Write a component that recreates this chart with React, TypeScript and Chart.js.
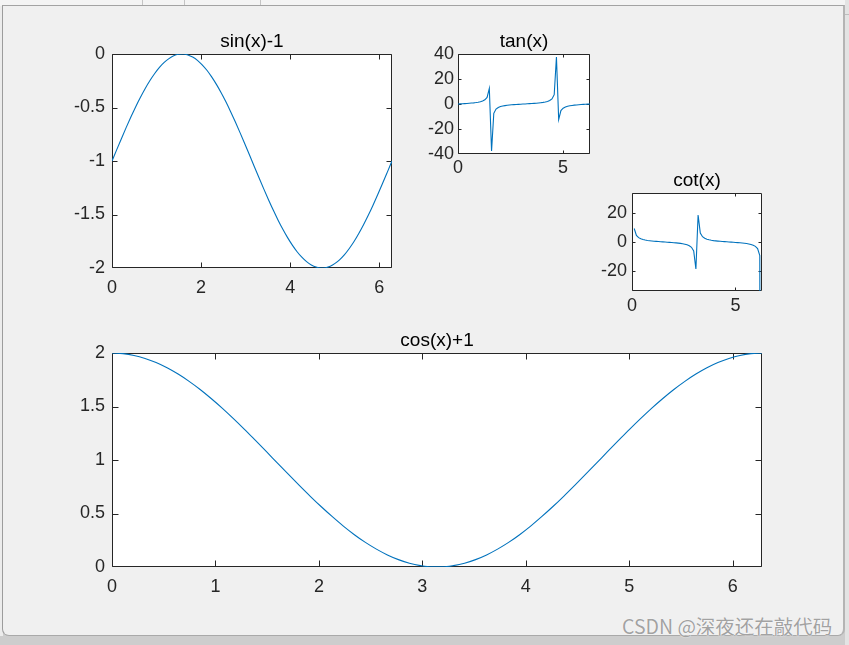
import React, { useEffect, useRef } from "react";
import { Chart, registerables } from "chart.js";

Chart.register(...registerables);

const X_SAMPLES = [
  0, 0.1065, 0.213, 0.3195, 0.426, 0.5325, 0.639, 0.7455, 0.8519, 0.9584,
  1.0649, 1.1714, 1.2779, 1.3844, 1.4909, 1.5974, 1.7039, 1.8104, 1.9169, 2.0234,
  2.1299, 2.2364, 2.3429, 2.4494, 2.5558, 2.6623, 2.7688, 2.8753, 2.9818, 3.0883,
  3.1948, 3.3013, 3.4078, 3.5143, 3.6208, 3.7273, 3.8338, 3.9403, 4.0468, 4.1533,
  4.2597, 4.3662, 4.4727, 4.5792, 4.6857, 4.7922, 4.8987, 5.0052, 5.1117, 5.2182,
  5.3247, 5.4312, 5.5377, 5.6442, 5.7507, 5.8572, 5.9636, 6.0701, 6.1766, 6.2832,
];

const SIN_MINUS_1 = [
  -1.0, -0.894, -0.789, -0.686, -0.587, -0.492, -0.404, -0.322, -0.248, -0.182,
  -0.125, -0.079, -0.043, -0.017, -0.003, 0.0, -0.009, -0.029, -0.059, -0.101,
  -0.152, -0.214, -0.284, -0.362, -0.447, -0.539, -0.636, -0.737, -0.841, -0.947,
  -1.053, -1.159, -1.263, -1.364, -1.461, -1.553, -1.638, -1.716, -1.786, -1.848,
  -1.899, -1.941, -1.971, -1.991, -2.0, -1.997, -1.983, -1.957, -1.921, -1.875,
  -1.818, -1.753, -1.678, -1.596, -1.508, -1.413, -1.314, -1.211, -1.106, -1.0,
];

const TAN_VALUES = [
  0, 0.11, 0.22, 0.33, 0.45, 0.59, 0.74, 0.92, 1.14, 1.42,
  1.81, 2.37, 3.32, 5.3, 12.49, -37.58, -7.47, -4.09, -2.77, -2.06,
  -1.6, -1.27, -1.03, -0.83, -0.66, -0.52, -0.39, -0.27, -0.16, -0.05,
  0.05, 0.16, 0.27, 0.39, 0.52, 0.66, 0.83, 1.03, 1.27, 1.6,
  2.06, 2.77, 4.09, 7.47, 37.58, -12.49, -5.3, -3.32, -2.37, -1.81,
  -1.42, -1.14, -0.92, -0.74, -0.59, -0.45, -0.33, -0.22, -0.11, 0,
];

// first point is infinite (not drawn); last point falls far below the axes
const COT_VALUES = [
  null, 9.35, 4.62, 3.02, 2.2, 1.7, 1.35, 1.08, 0.88, 0.7,
  0.55, 0.42, 0.3, 0.19, 0.08, -0.03, -0.13, -0.24, -0.36, -0.49,
  -0.63, -0.79, -0.97, -1.21, -1.51, -1.93, -2.56, -3.67, -6.21, -18.77,
  18.77, 6.21, 3.67, 2.56, 1.93, 1.51, 1.21, 0.97, 0.79, 0.63,
  0.49, 0.36, 0.24, 0.13, 0.03, -0.08, -0.19, -0.3, -0.42, -0.55,
  -0.7, -0.88, -1.08, -1.35, -1.7, -2.2, -3.02, -4.62, -9.35, -1000,
];

const COS_PLUS_1 = [
  2.0, 1.994, 1.977, 1.949, 1.911, 1.862, 1.803, 1.735, 1.659, 1.575,
  1.485, 1.389, 1.289, 1.185, 1.08, 0.973, 0.867, 0.763, 0.661, 0.563,
  0.47, 0.382, 0.302, 0.23, 0.167, 0.113, 0.069, 0.035, 0.013, 0.001,
  0.001, 0.013, 0.035, 0.069, 0.113, 0.167, 0.23, 0.302, 0.382, 0.47,
  0.563, 0.661, 0.763, 0.867, 0.973, 1.08, 1.185, 1.289, 1.389, 1.485,
  1.575, 1.659, 1.735, 1.803, 1.862, 1.911, 1.949, 1.977, 1.994, 2.0,
];

const TITLES = ["sin(x)-1", "tan(x)", "cot(x)", "cos(x)+1"];
const X_LIMITS = [0, 6.2832];
const SIN_Y_LIMITS = [-2, 0];
const TAN_Y_LIMITS = [-40, 40];
const COT_Y_LIMITS = [-34, 34];
const COS_Y_LIMITS = [0, 2];

const SIN_X_TICKS = [0, 2, 4, 6];
const SIN_Y_TICKS = [-2, -1.5, -1, -0.5, 0];
const TAN_X_TICKS = [0, 5];
const TAN_Y_TICKS = [-40, -20, 0, 20, 40];
const COT_X_TICKS = [0, 5];
const COT_Y_TICKS = [-20, 0, 20];
const COS_X_TICKS = [0, 1, 2, 3, 4, 5, 6];
const COS_Y_TICKS = [0, 0.5, 1, 1.5, 2];

// ---- layout / style ----
const FONT = "'Liberation Sans', Arial, Helvetica, sans-serif";
const LINE_COLOR = "#0072BD";
const AXIS_COLOR = "#262626";
const PAD_L = 60;
const PAD_T = 32;
const PAD_R = 16;
const PAD_B = 36;
const TITLE_SIZE = 19;
const TICK_SIZE = 18;

type Spec = {
  title: string;
  values: (number | null)[];
  yLim: number[];
  xTicks: number[];
  yTicks: number[];
  box: { l: number; t: number; w: number; h: number };
  tickLen: number;
  xPad: number;
  yPad: number;
  smooth: boolean;
};

const SPECS: Spec[] = [
  { title: TITLES[0], values: SIN_MINUS_1, yLim: SIN_Y_LIMITS, xTicks: SIN_X_TICKS, yTicks: SIN_Y_TICKS,
    box: { l: 112, t: 54, w: 280, h: 214 }, tickLen: 5, xPad: 9, yPad: 7, smooth: true },
  { title: TITLES[1], values: TAN_VALUES, yLim: TAN_Y_LIMITS, xTicks: TAN_X_TICKS, yTicks: TAN_Y_TICKS,
    box: { l: 458, t: 54, w: 132, h: 100 }, tickLen: 3, xPad: 3, yPad: 4, smooth: false },
  { title: TITLES[2], values: COT_VALUES, yLim: COT_Y_LIMITS, xTicks: COT_X_TICKS, yTicks: COT_Y_TICKS,
    box: { l: 632, t: 193, w: 130, h: 98 }, tickLen: 3, xPad: 4, yPad: 5, smooth: false },
  { title: TITLES[3], values: COS_PLUS_1, yLim: COS_Y_LIMITS, xTicks: COS_X_TICKS, yTicks: COS_Y_TICKS,
    box: { l: 112, t: 353, w: 650, h: 214 }, tickLen: 6, xPad: 9, yPad: 7, smooth: true },
];

const axesBoxPlugin = {
  id: "axesBox",
  beforeDatasetsDraw(chart: any, _args: any, opts: any) {
    const { ctx, chartArea: a, scales } = chart;
    const L = opts && opts.tickLen ? opts.tickLen : 5;
    ctx.save();
    ctx.fillStyle = "#ffffff";
    ctx.fillRect(a.left, a.top, a.right - a.left, a.bottom - a.top);
    const l = a.left + 0.5;
    const r = a.right - 0.5;
    const t = a.top + 0.5;
    const b = a.bottom - 0.5;
    ctx.strokeStyle = AXIS_COLOR;
    ctx.lineWidth = 1;
    ctx.beginPath();
    ctx.rect(l, t, r - l, b - t);
    for (const tk of scales.x.ticks) {
      let px = Math.round(scales.x.getPixelForValue(tk.value)) + 0.5;
      px = Math.min(Math.max(px, l), r);
      ctx.moveTo(px, b);
      ctx.lineTo(px, b - L);
      ctx.moveTo(px, t);
      ctx.lineTo(px, t + L);
    }
    for (const tk of scales.y.ticks) {
      let py = Math.round(scales.y.getPixelForValue(tk.value)) + 0.5;
      py = Math.min(Math.max(py, t), b);
      ctx.moveTo(l, py);
      ctx.lineTo(l + L, py);
      ctx.moveTo(r, py);
      ctx.lineTo(r - L, py);
    }
    ctx.stroke();
    ctx.restore();
  },
};

function Subplot({ spec }: { spec: Spec }) {
  const ref = useRef<HTMLCanvasElement>(null);
  const W = spec.box.w + PAD_L + PAD_R;
  const H = spec.box.h + PAD_T + PAD_B;

  useEffect(() => {
    const canvas = ref.current;
    if (!canvas) return;
    const chart = new Chart(canvas, {
      type: "line",
      data: {
        datasets: [
          {
            data: X_SAMPLES.map((x, i) => ({ x, y: spec.values[i] })) as any,
            borderColor: LINE_COLOR,
            borderWidth: 1.1,
            pointRadius: 0,
            tension: 0,
            cubicInterpolationMode: spec.smooth ? "monotone" : "default",
            fill: false,
            spanGaps: false,
          },
        ],
      },
      options: {
        responsive: false,
        animation: false,
        devicePixelRatio: 1,
        events: [],
        layout: { padding: { left: 0, top: 0, right: PAD_R, bottom: 0 } },
        plugins: {
          legend: { display: false },
          tooltip: { enabled: false },
          title: {
            display: true,
            text: spec.title,
            fullSize: false,
            color: "#000000",
            font: { family: FONT, size: TITLE_SIZE, weight: "normal", lineHeight: 1 },
            padding: { top: PAD_T - TITLE_SIZE - 3, bottom: 3 },
          },
          axesBox: { tickLen: spec.tickLen },
        } as any,
        scales: {
          x: {
            type: "linear",
            min: X_LIMITS[0],
            max: X_LIMITS[1],
            grid: { display: false, drawTicks: false },
            border: { display: false },
            ticks: {
              color: AXIS_COLOR,
              font: { family: FONT, size: TICK_SIZE },
              padding: spec.xPad,
              maxRotation: 0,
              autoSkip: false,
              callback: (v: any) => String(v),
            },
            afterBuildTicks: (s: any) => {
              s.ticks = spec.xTicks.map((value) => ({ value }));
            },
            afterFit: (s: any) => {
              s.height = PAD_B;
            },
          },
          y: {
            type: "linear",
            min: spec.yLim[0],
            max: spec.yLim[1],
            grid: { display: false, drawTicks: false },
            border: { display: false },
            ticks: {
              color: AXIS_COLOR,
              font: { family: FONT, size: TICK_SIZE },
              padding: spec.yPad,
              autoSkip: false,
              callback: (v: any) => String(v),
            },
            afterBuildTicks: (s: any) => {
              s.ticks = spec.yTicks.map((value) => ({ value }));
            },
            afterFit: (s: any) => {
              s.width = PAD_L;
            },
          },
        },
      },
      plugins: [axesBoxPlugin as any],
    });
    return () => chart.destroy();
  }, [spec]);

  return (
    <canvas
      ref={ref}
      width={W}
      height={H}
      style={{
        position: "absolute",
        left: spec.box.l - PAD_L,
        top: spec.box.t - PAD_T,
        width: W,
        height: H,
      }}
    />
  );
}

export default function App() {
  return (
    <div
      style={{
        position: "absolute",
        left: 0,
        top: 0,
        width: 849,
        height: 645,
        overflow: "hidden",
        background: "#cdcdcd",
      }}
    >
      <div style={{ position: "absolute", left: 0, top: 0, width: 849, height: 6, background: "#f4f4f4" }} />
      {[142, 184, 260].map((x) => (
        <div key={x} style={{ position: "absolute", left: x, top: 0, width: 1, height: 5, background: "#c4c4c4" }} />
      ))}
      <div style={{ position: "absolute", left: 0, top: 6, width: 3, height: 630, background: "#ececec" }} />
      <div style={{ position: "absolute", left: 845, top: 0, width: 4, height: 645, background: "#e3e3e3" }} />
      <div style={{ position: "absolute", left: 845, top: 14, width: 4, height: 1, background: "#bdbdbd" }} />
      <div
        style={{
          position: "absolute",
          left: 2,
          top: 5,
          width: 843,
          height: 631,
          boxSizing: "border-box",
          background: "#f0f0f0",
          borderTop: "1px solid #a3a3a3",
          borderLeft: "1px solid #9c9c9c",
          borderRight: "2px solid #b4b4b4",
          borderBottom: "1px solid #a9a9a9",
          borderRadius: "0 0 7px 7px",
        }}
      />
      {SPECS.map((s) => (
        <Subplot key={s.title} spec={s} />
      ))}
      <div
        style={{
          position: "absolute",
          left: 622,
          top: 614,
          whiteSpace: "nowrap",
          fontFamily: "'Noto Sans CJK SC', 'Noto Sans', sans-serif",
          fontSize: 19.5,
          lineHeight: "24px",
          color: "#a2a2a2",
          textShadow: "0 0 1px #ffffff, 0 0 1px #ffffff",
        }}
      >
        CSDN @深夜还在敲代码
      </div>
    </div>
  );
}
